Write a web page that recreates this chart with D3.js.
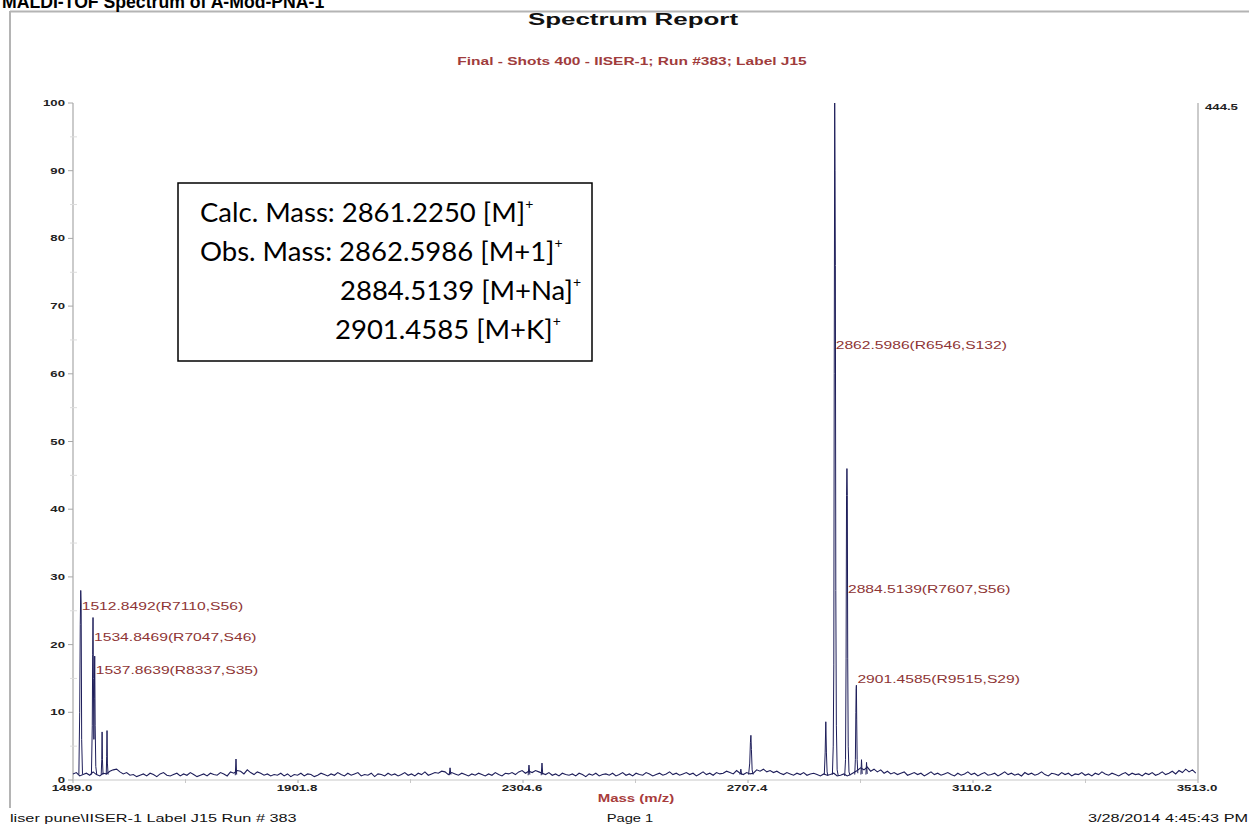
<!DOCTYPE html>
<html><head><meta charset="utf-8">
<script src="https://cdn.jsdelivr.net/npm/d3@7"></script>
<style>
html,body{margin:0;padding:0;background:#fff;}
svg{display:block;}
</style></head>
<body>
<svg id="chart" width="1249" height="824"></svg>
<script>
// ---------------- DATA ----------------
const xTicks = [1499.0, 1901.8, 2304.6, 2707.4, 3110.2, 3513.0];
const yTicks = [0, 10, 20, 30, 40, 50, 60, 70, 80, 90, 100];
const maxCounts = "444.5";

// baseline noise, sampled every 6 Da from 1499
const noiseStart = 1499, noiseStep = 6;
const noiseValues = [
0.9,1.1,0.6,0.8,1.0,0.7,1.2,0.8,0.6,1.0,0.9,1.3,1.5,1.6,1.2,0.9,1.1,0.7,0.8,0.5,
0.7,0.9,0.6,1.0,0.8,0.5,0.9,1.1,0.7,0.6,0.8,1.0,0.6,0.9,0.7,1.1,0.8,0.5,0.7,0.9,
0.6,1.0,0.8,0.7,1.1,0.9,0.6,1.2,1.0,1.4,1.3,0.9,1.5,1.1,0.8,1.2,1.0,0.7,0.9,0.6,
0.8,0.7,1.0,0.6,0.9,0.5,0.8,0.7,1.0,0.6,0.9,0.8,0.5,0.7,1.0,0.8,0.6,0.9,0.7,1.1,
0.8,0.6,1.0,0.7,0.9,1.1,0.6,0.8,0.7,1.0,0.5,0.9,0.8,0.6,1.0,0.7,0.9,0.6,0.8,1.1,
0.7,0.9,0.6,1.0,0.8,1.2,0.7,0.9,1.1,1.0,1.3,1.2,0.8,1.1,0.9,0.7,1.0,0.8,0.6,0.9,
0.7,1.0,0.8,0.6,0.9,0.7,1.1,0.8,0.6,1.0,0.9,1.1,0.8,1.2,1.4,1.0,1.3,1.1,1.4,1.2,
1.0,0.8,1.1,0.7,0.9,0.6,1.0,0.8,0.7,0.9,0.6,1.0,0.8,0.5,0.9,0.7,1.0,0.6,0.8,0.9,
0.7,1.0,0.6,0.8,1.1,0.7,0.9,0.6,1.0,0.8,0.7,1.1,0.9,0.6,0.8,1.0,0.7,0.9,1.2,0.8,
1.0,0.7,0.9,1.1,0.8,1.0,0.6,0.9,1.2,0.8,1.0,0.7,1.1,0.9,1.0,1.3,1.1,0.9,1.4,1.0,
0.8,1.1,0.9,1.0,1.5,1.3,1.6,1.2,1.4,1.1,1.3,1.0,0.8,1.1,0.9,0.7,1.0,0.8,1.1,0.7,
0.9,1.0,0.8,0.6,0.9,0.7,0.8,1.0,0.6,0.7,0.9,0.6,0.8,1.1,1.4,1.8,1.5,1.9,1.3,1.6,
1.2,1.5,1.0,1.3,0.9,1.1,0.8,1.0,1.2,0.7,0.9,1.1,0.8,1.0,0.6,0.9,1.2,0.8,1.0,0.7,
0.9,1.1,0.8,0.6,1.0,0.7,0.9,1.2,0.8,1.0,0.6,0.9,1.1,0.7,0.8,1.0,0.6,0.9,1.2,0.8,
1.0,0.7,0.9,0.6,1.1,0.8,1.0,0.7,0.9,1.2,0.8,0.6,1.0,0.9,0.7,1.1,0.8,1.0,0.6,0.9,
0.8,1.1,0.7,0.9,0.6,1.0,0.8,1.2,0.9,0.7,1.0,0.8,0.6,0.9,1.1,0.7,1.0,0.8,0.9,0.6,
1.0,0.8,1.1,0.7,0.9,1.2,0.8,1.0,1.3,0.9,1.4,1.1,1.6,1.2,1.5,1.0
];

// peak profiles: [mass, relative intensity %]
const peakProfiles = [
  [[1509.5,0.8],[1511.0,10],[1512.0,23],[1512.85,28],[1513.6,26],[1514.5,6],[1516.0,0.9]],
  [[1532.0,0.8],[1533.5,8],[1534.2,18.5],[1534.85,24],[1535.5,15],[1536.4,6],[1537.1,12],[1537.86,18.3],[1538.7,8],[1539.8,2],[1541.5,0.8]],
  [[1549.5,0.8],[1550.5,3],[1551.1,7.1],[1551.7,3],[1552.8,0.8]],
  [[1558.5,0.8],[1559.3,3.5],[1559.9,7.3],[1560.6,2.5],[1561.8,0.8]],
  [[1789.5,0.7],[1790.8,3.1],[1792.0,0.8]],
  [[2172.5,0.7],[2174.0,1.8],[2175.5,0.8]],
  [[2313.8,0.7],[2315.3,2.2],[2316.8,0.8]],
  [[2337.2,0.7],[2338.6,2.5],[2340.0,0.8]],
  [[2693.0,0.8],[2694.6,1.6],[2696.0,0.8]],
  [[2708.5,0.8],[2710.5,2.5],[2711.7,5.5],[2712.6,6.6],[2713.5,4.5],[2714.8,1.5],[2716.5,0.8]],
  [[2844.0,0.8],[2845.5,4],[2846.7,8.6],[2847.8,4],[2849.0,1.2],[2850.5,0.6]],
  [[2858.5,0.8],[2860.0,5],[2861.0,17],[2861.8,60],[2862.6,100],[2863.2,90],[2863.8,76],[2864.6,28],[2865.6,8],[2867.0,1.5],[2869.0,0.6]],
  [[2880.5,0.6],[2882.0,3],[2883.0,18],[2883.8,42],[2884.5,46],[2885.2,42],[2885.9,18],[2886.8,5],[2888.2,1.2],[2890.0,0.7]],
  [[2898.5,0.8],[2899.6,3],[2900.5,10],[2901.0,13.5],[2901.46,14],[2902.0,9],[2902.8,3],[2904.0,1]],
  [[2909.5,0.8],[2910.6,3],[2911.8,0.9]],
  [[2918.5,0.8],[2919.6,2.6],[2920.8,0.9]]
];

const labelMass = [1512.8492, 1534.8469, 1537.8639, 2862.5986, 2884.5139, 2901.4585];
const labelText = ["1512.8492(R7110,S56)", "1534.8469(R7047,S46)", "1537.8639(R8337,S35)",
                   "2862.5986(R6546,S132)", "2884.5139(R7607,S56)", "2901.4585(R9515,S29)"];
const labelLevel = [25.7, 21.1, 16.2, 64.3, 28.2, 14.9];

const boxLines = [
  {text: "Calc. Mass: 2861.2250 [M]", sup: "+"},
  {text: "Obs. Mass: 2862.5986 [M+1]", sup: "+"},
  {text: "2884.5139 [M+Na]", sup: "+"},
  {text: "2901.4585 [M+K]", sup: "+"}
];

const pageTitle = "MALDI-TOF Spectrum of A-Mod-PNA-1";
const reportTitle = "Spectrum Report";
const subTitle = "Final - Shots 400 - IISER-1; Run #383; Label J15";
const xTitle = "Mass (m/z)";
const footerLeft = "liser pune\\IISER-1 Label J15 Run # 383";
const footerMid = "Page 1";
const footerRight = "3/28/2014 4:45:43 PM";

// ---------------- DRAW ----------------
const svg = d3.select("#chart");
const FONT = "'Liberation Sans', Arial, Helvetica, sans-serif";
const x = d3.scaleLinear().domain([1499, 3513]).range([73, 1198]);
const y = d3.scaleLinear().domain([0, 100]).range([780, 103]);

function stext(px, py, str, o) {
  return svg.append("text")
    .attr("transform", `translate(${px},${py}) scale(${o.sx || 1},1)`)
    .attr("font-family", o.family || FONT)
    .attr("font-size", o.size)
    .attr("font-weight", o.weight || "normal")
    .attr("fill", o.fill || "#000")
    .attr("text-anchor", o.anchor || "start")
    .text(str);
}

// page frame
svg.append("line").attr("x1", 10).attr("x2", 1249).attr("y1", 11.5).attr("y2", 11.5)
  .attr("stroke", "#b4b4b4").attr("stroke-width", 2);
svg.append("line").attr("x1", 10).attr("x2", 10).attr("y1", 11).attr("y2", 808)
  .attr("stroke", "#b4b4b4").attr("stroke-width", 2);

// cropped page heading (cut at the top edge, as in the source page)
stext(2, 8, pageTitle, {size: 18, weight: "bold", sx: 0.98});

stext(633, 25, reportTitle, {size: 16, weight: "bold", anchor: "middle", sx: 1.62, fill: "#111"});
stext(632, 65, subTitle, {size: 10, weight: "bold", anchor: "middle", sx: 1.55, fill: "#a03c3c"});

// axes lines
const axisColor = "#a8a8a8";
svg.append("line").attr("x1", x(1499)).attr("x2", x(1499)).attr("y1", y(100)).attr("y2", y(0))
  .attr("stroke", axisColor).attr("stroke-width", 1.2);
svg.append("line").attr("x1", x(3513)).attr("x2", x(3513)).attr("y1", y(100)).attr("y2", y(0))
  .attr("stroke", axisColor).attr("stroke-width", 1.2);
svg.append("line").attr("x1", x(1499)).attr("x2", x(3513)).attr("y1", y(0)).attr("y2", y(0))
  .attr("stroke", "#c8c8c8").attr("stroke-width", 1);

// y ticks
yTicks.forEach(v => {
  svg.append("line").attr("x1", 68).attr("x2", 73).attr("y1", y(v)).attr("y2", y(v))
    .attr("stroke", axisColor);
  stext(65, y(v) + 3, String(v), {size: 8.5, weight: "bold", anchor: "end", sx: 1.55, fill: "#222"});
});
d3.pairs(yTicks).forEach(([a, b]) => {
  const m = (a + b) / 2;
  svg.append("line").attr("x1", 70).attr("x2", 77).attr("y1", y(m)).attr("y2", y(m))
    .attr("stroke", "#dcdcdc");
});
// x ticks
xTicks.forEach(v => {
  svg.append("line").attr("x1", x(v)).attr("x2", x(v)).attr("y1", y(0)).attr("y2", y(0) + 3)
    .attr("stroke", axisColor);
  stext(x(v) - 1, 790.5, v.toFixed(1), {size: 9.5, weight: "bold", anchor: "middle", sx: 1.4, fill: "#222"});
});
d3.pairs(xTicks).forEach(([a, b]) => {
  const m = (a + b) / 2;
  svg.append("line").attr("x1", x(m)).attr("x2", x(m)).attr("y1", y(0) - 1).attr("y2", y(0) + 3)
    .attr("stroke", "#c8c8c8");
});
stext(1205, 110, maxCounts, {size: 8.5, weight: "bold", sx: 1.55, fill: "#222"});

stext(636, 802, xTitle, {size: 10, weight: "bold", anchor: "middle", sx: 1.5, fill: "#a83c3c"});

// spectrum
const lineColor = "#1e1e5a";
const line = d3.line().x(d => x(d[0])).y(d => y(d[1]));
const noisePts = noiseValues.map((v, i) => [noiseStart + i * noiseStep, v]);
svg.append("path").datum(noisePts).attr("d", line)
  .attr("fill", "none").attr("stroke", lineColor).attr("stroke-width", 1.1);
svg.selectAll("path.peak").data(peakProfiles).enter().append("path")
  .attr("class", "peak").attr("d", line)
  .attr("fill", "none").attr("stroke", lineColor).attr("stroke-width", 1);

// peak labels
labelMass.forEach((m, i) => {
  stext(x(m) + 1, y(labelLevel[i]) + 4, labelText[i], {size: 11.5, sx: 1.36, fill: "#8e3535"});
});

// annotation box
svg.append("rect").attr("x", 178).attr("y", 183).attr("width", 414).attr("height", 178)
  .attr("fill", "#fff").attr("stroke", "#000").attr("stroke-width", 1.5);
const boxX = [200, 200, 340, 335];
const boxBase = [222, 261, 300, 339];
boxLines.forEach((l, i) => {
  const t = svg.append("text").attr("x", boxX[i]).attr("y", boxBase[i])
    .attr("font-family", "Lato, 'Open Sans', sans-serif").attr("font-size", 27.5).attr("fill", "#000");
  t.append("tspan").text(l.text);
  t.append("tspan").attr("dy", -13).attr("font-size", 14).text(l.sup);
});

// footer
stext(10, 822, footerLeft, {size: 10.5, sx: 1.55, fill: "#111"});
stext(630, 822, footerMid, {size: 10.5, anchor: "middle", sx: 1.4, fill: "#111"});
stext(1088, 822, footerRight, {size: 10.5, sx: 1.55, fill: "#111"});
</script>
</body></html>
